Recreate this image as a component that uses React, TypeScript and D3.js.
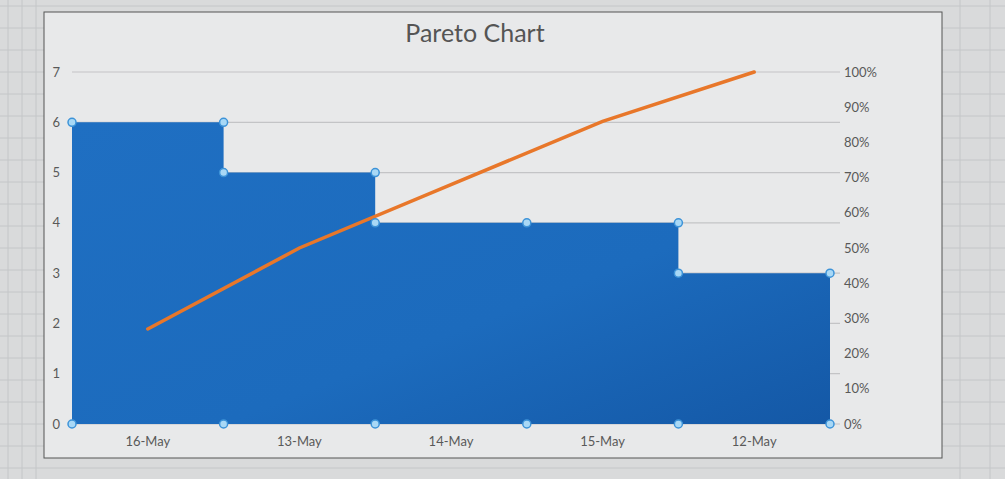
import { useEffect, useRef } from "react"
import * as d3 from "d3"

const categories = ["16-May", "13-May", "14-May", "15-May", "12-May"]
const counts = [6, 5, 4, 4, 3]
const cumulativePct = [27, 50, 68, 86, 100]
const countTicks = [0, 1, 2, 3, 4, 5, 6, 7]
const pctTicks = [0, 10, 20, 30, 40, 50, 60, 70, 80, 90, 100]

const WIDTH = 1005
const HEIGHT = 479

export default function App() {
  const svgRef = useRef<SVGSVGElement>(null)

  useEffect(() => {
    if (!svgRef.current) return
    const svg = d3.select(svgRef.current)
    svg.selectAll("*").remove()

    const font = "Lato, 'Open Sans', sans-serif"
    const frame = { left: 44, top: 12, right: 942, bottom: 458 }
    const plot = { left: 72, right: 830, top: 72, bottom: 424 }

    // spreadsheet background
    svg.append("rect").attr("width", WIDTH).attr("height", HEIGHT).attr("fill", "#d9dadb")
    const bg = svg.append("g").attr("stroke", "#c4c6c8").attr("stroke-width", 1)
    d3.range(6, HEIGHT, 22).forEach((y) => {
      bg.append("line").attr("x1", 0).attr("x2", WIDTH).attr("y1", y).attr("y2", y)
    })
    ;[8, 22, 36, 960, 990].forEach((x) => {
      bg.append("line").attr("x1", x).attr("x2", x).attr("y1", 0).attr("y2", HEIGHT)
    })

    // chart frame
    svg
      .append("rect")
      .attr("x", frame.left)
      .attr("y", frame.top)
      .attr("width", frame.right - frame.left)
      .attr("height", frame.bottom - frame.top)
      .attr("fill", "#e8e9ea")
      .attr("stroke", "#555")
      .attr("stroke-width", 1)

    // scales
    const xScale = d3.scaleBand().domain(categories).range([plot.left, plot.right]).padding(0)
    const yScale = d3.scaleLinear().domain([0, 7]).range([plot.bottom, plot.top])
    const pScale = d3.scaleLinear().domain([0, 100]).range([plot.bottom, plot.top])

    // gridlines
    svg
      .append("g")
      .selectAll("line")
      .data(countTicks)
      .enter()
      .append("line")
      .attr("x1", plot.left)
      .attr("x2", plot.right + 10)
      .attr("y1", (d) => yScale(d))
      .attr("y2", (d) => yScale(d))
      .attr("stroke", "#c3c4c6")
      .attr("stroke-width", 1.2)

    // step area
    const pts: [number, number][] = []
    categories.forEach((c, i) => {
      const x0 = xScale(c) || 0
      pts.push([x0, counts[i]])
      pts.push([x0 + xScale.bandwidth(), counts[i]])
    })

    const defs = svg.append("defs")
    const grad = defs
      .append("linearGradient")
      .attr("id", "areaGrad")
      .attr("x1", "0")
      .attr("y1", "0")
      .attr("x2", "1")
      .attr("y2", "1")
    grad.append("stop").attr("offset", "0%").attr("stop-color", "#1f6fc2")
    grad.append("stop").attr("offset", "60%").attr("stop-color", "#1c6bbd")
    grad.append("stop").attr("offset", "100%").attr("stop-color", "#1458a6")

    const area = d3
      .area<[number, number]>()
      .x((d) => d[0])
      .y0(yScale(0))
      .y1((d) => yScale(d[1]))

    svg.append("path").datum(pts).attr("d", area).attr("fill", "url(#areaGrad)")

    // selection markers on vertices
    const topPts = pts.filter(
      (p, i) => !(i > 0 && i < pts.length - 1 && pts[i - 1][1] === p[1] && pts[i + 1][1] === p[1] && pts[i - 1][0] === p[0])
    )
    const uniqueTop = topPts.filter(
      (p, i) => i === 0 || !(topPts[i - 1][0] === p[0] && topPts[i - 1][1] === p[1])
    )
    const boundaries = [...categories.map((c) => xScale(c) || 0), plot.right]
    const markerData: [number, number][] = [...uniqueTop, ...boundaries.map((b) => [b, 0] as [number, number])]

    // cumulative line
    const line = d3
      .line<number>()
      .x((_, i) => (xScale(categories[i]) || 0) + xScale.bandwidth() / 2)
      .y((d) => pScale(d))

    svg
      .append("path")
      .datum(cumulativePct)
      .attr("fill", "none")
      .attr("stroke", "#e8772a")
      .attr("stroke-width", 3.5)
      .attr("stroke-linecap", "round")
      .attr("d", line)

    svg
      .append("g")
      .selectAll("circle")
      .data(markerData)
      .enter()
      .append("circle")
      .attr("cx", (d) => d[0])
      .attr("cy", (d) => yScale(d[1]))
      .attr("r", 4)
      .attr("fill", "#a8d8f6")
      .attr("stroke", "#3d93d8")
      .attr("stroke-width", 1.5)

    // left axis labels
    svg
      .append("g")
      .selectAll("text")
      .data(countTicks)
      .enter()
      .append("text")
      .attr("x", plot.left - 12)
      .attr("y", (d) => yScale(d))
      .attr("dy", "0.35em")
      .attr("text-anchor", "end")
      .style("font-family", font)
      .style("font-size", "13px")
      .style("fill", "#595959")
      .text((d) => d)

    // right axis labels
    svg
      .append("g")
      .selectAll("text")
      .data(pctTicks)
      .enter()
      .append("text")
      .attr("x", plot.right + 14)
      .attr("y", (d) => pScale(d))
      .attr("dy", "0.35em")
      .attr("text-anchor", "start")
      .style("font-family", font)
      .style("font-size", "13px")
      .style("fill", "#595959")
      .text((d) => `${d}%`)

    // category labels
    svg
      .append("g")
      .selectAll("text")
      .data(categories)
      .enter()
      .append("text")
      .attr("x", (d) => (xScale(d) || 0) + xScale.bandwidth() / 2)
      .attr("y", plot.bottom + 22)
      .attr("text-anchor", "middle")
      .style("font-family", font)
      .style("font-size", "13px")
      .style("fill", "#595959")
      .text((d) => d)

    // title
    svg
      .append("text")
      .attr("x", 475)
      .attr("y", 42)
      .attr("text-anchor", "middle")
      .style("font-family", font)
      .style("font-size", "25px")
      .style("fill", "#555")
      .text("Pareto Chart")
  }, [])

  return (
    <svg
      ref={svgRef}
      width={WIDTH}
      height={HEIGHT}
      style={{ position: "absolute", left: 0, top: 0, display: "block" }}
    />
  )
}
